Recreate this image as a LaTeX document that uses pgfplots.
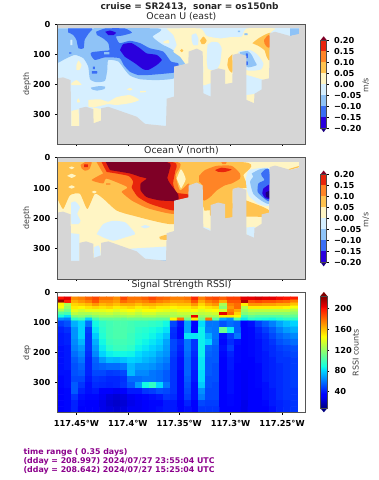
\documentclass[border=0pt]{standalone}
\usepackage{pgfplots}
\usepackage{pgfplotstable}
\pgfplotsset{compat=1.18}
\usepackage{fontspec}
\setmainfont{DejaVu Sans}
\definecolor{cGray}{HTML}{D6D6D6}
\definecolor{cN}{HTML}{1A0080}
\definecolor{cA}{HTML}{2A00DD}
\definecolor{cB}{HTML}{3A6EF5}
\definecolor{cC}{HTML}{8FC3F7}
\definecolor{cD}{HTML}{D6EFFF}
\definecolor{cE}{HTML}{FFF5C4}
\definecolor{cF}{HTML}{FFC34F}
\definecolor{cG}{HTML}{FF8426}
\definecolor{cH}{HTML}{E8250C}
\definecolor{cI}{HTML}{7F0026}
\definecolor{cFrame}{HTML}{555555}
\definecolor{cPurple}{HTML}{8B008B}
\newcommand{\tickfont}{\fontsize{6.2}{7}\selectfont\bfseries}
\newcommand{\labfont}{\fontsize{6.0}{7}\selectfont}
\newcommand{\titfont}{\fontsize{7.0}{8}\selectfont}
% x axis: thousandths of a degree, x = (lon + 118) * 1000, so 550 = 117.45 W
\pgfplotstableread{
x y
531 181
537 178
544.4 187
544.7 340
552.8 340
552.8 281
559.3 276
566.4 284
566.7 331
573.9 322
573.9 281
581 276
608.6 309
616.7 333
637.1 340
637.8 249
644.9 242
644.9 142
658.8 131
659.2 92
667 82
672.8 92
673.4 231
680.6 242
680.6 156
688 148
694.5 153
694.5 200
701.7 196
702 103
707.5 98
715.3 106
715.3 253
722.8 264
723.1 233
730.2 218
730.2 187
737.4 181
738 31
743.2 26
757.8 40
766.5 33
766.5 15
773 15
773 400
531 400
}\terrain
\pgfplotsset{
  rect/.style={fill=#1,draw=none,forget plot},
  poly/.style={fill=#1,draw=none,forget plot,smooth,tension=0.35},
  sec/.style={scale only axis,width=186.15pt,xmin=531.4,xmax=772.8,ymin=0,ymax=400,
    y dir=reverse,clip=true,axis on top,
    ytick={0,100,200,300},xtick={550,600,650,700,750},
    xtick pos=bottom,ytick pos=left,tick align=outside,
    major tick length=1.6pt,
    tick style={color=black,line width=0.35pt},
    axis line style={color=cFrame,line width=0.6pt},
    tick label style={font=\tickfont},
    every axis y label/.style={at={(axis description cs:-0.122,0.5)},rotate=90,anchor=center,font=\labfont,color=black!75},
    title style={font=\titfont,at={(axis description cs:0.5,1)},anchor=south,yshift=-7.4pt,color=black!85},
    /pgf/number format/assume math mode=true,
    axis background/.style={fill=cGray}},
  cbar/.style={scale only axis,width=4.5pt,xmin=0,xmax=1,clip=false,axis on top,
    xtick=\empty,ytick pos=right,tick align=outside,major tick length=1.6pt,
    tick style={color=black,line width=0.35pt},
    axis line style={color=black!70,line width=0.3pt},
    yticklabel style={font=\tickfont,anchor=west,xshift=0.4pt},
    /pgf/number format/assume math mode=true},
  uvbar/.style={cbar,height=66pt,ymin=-0.2,ymax=0.2,
    ytick={-0.2,-0.15,-0.1,-0.05,0,0.05,0.1,0.15,0.2},
    yticklabels={−0.20,−0.15,−0.10,−0.05,0.00,0.05,0.10,0.15,0.20}},
}
\newcommand{\uvbarplots}{%
  \addplot[rect=cA] coordinates {(0,-0.2)(1,-0.2)(1,-0.15)(0,-0.15)} -- cycle;
  \addplot[rect=cB] coordinates {(0,-0.15)(1,-0.15)(1,-0.1)(0,-0.1)} -- cycle;
  \addplot[rect=cC] coordinates {(0,-0.1)(1,-0.1)(1,-0.05)(0,-0.05)} -- cycle;
  \addplot[rect=cD] coordinates {(0,-0.05)(1,-0.05)(1,0)(0,0)} -- cycle;
  \addplot[rect=cE] coordinates {(0,0)(1,0)(1,0.05)(0,0.05)} -- cycle;
  \addplot[rect=cF] coordinates {(0,0.05)(1,0.05)(1,0.1)(0,0.1)} -- cycle;
  \addplot[rect=cG] coordinates {(0,0.1)(1,0.1)(1,0.15)(0,0.15)} -- cycle;
  \addplot[rect=cH] coordinates {(0,0.15)(1,0.15)(1,0.2)(0,0.2)} -- cycle;
  \addplot[rect=cI] coordinates {(0,0.2)(1,0.2)(0.5,0.217)} -- cycle;
  \addplot[rect=cN] coordinates {(0,-0.2)(1,-0.2)(0.5,-0.219)} -- cycle;
}
\newcommand{\terrainplots}{%
  \addplot[rect=cGray] table {\terrain} -- cycle;
  \addplot[rect=cGray] coordinates {(531,-1)(773,-1)(773,15)(531,15)} -- cycle;
}
\begin{document}
\begin{tikzpicture}[x=1pt,y=1pt]
\path[use as bounding box] (0,0) rectangle (284.25,360);
\node[anchor=center,font=\fontsize{6.75}{8}\selectfont\bfseries,color=black!85] at (142.2,354.7) {cruise = SR2413,\ \ sonar = os150nb};

% ---------- Ocean U
\begin{axis}[sec,at={(42.98pt,252pt)},anchor=south west,height=90pt,title={Ocean U (east)},ylabel={depth},xticklabels={}]
\addplot[rect=cD] coordinates {(531,15)(767,15)(767,400)(531,400)} -- cycle;
\addplot[poly=cC] coordinates {(531,15)(629.6,15)(624.1,42)(632.9,67)(642.6,84)(652.4,107)(657.2,125)(652.4,142)(644.9,181)(628,187)(611.8,184)(602.1,172)(597.2,153)(590.7,125)(581,120)(580,153)(577.8,189)(569.7,194)(563.2,184)(561.5,142)(556.7,114)(548.6,103)(540.5,114)(532.4,129)(531,129)} -- cycle;
\addplot[poly=cD] coordinates {(544,53)(546,53)(546,70)(544,70)} -- cycle;
\addplot[poly=cB] coordinates {(542,15)(565,15)(562,31)(558,53)(557,81)(552,81)(550,53)(547,37)(542,28)} -- cycle;
\addplot[poly=cB] coordinates {(569,26)(578,15)(597,15)(604,29)(594,39)(588.5,42)(592,64)(602,56)(612,64)(621.5,81)(634.5,92)(642,125)(649,131)(649,153)(645,162)(631,167)(620,170)(610,170)(602,159)(596,137)(592,114)(578,111)(568,120)(564,103)(565,94)(578,89)(582,87)(581,64)(576,48)(570,37)} -- cycle;
\addplot[poly=cC] coordinates {(577,94)(582,94)(582,101)(577,101)} -- cycle;
\addplot[poly=cA] coordinates {(578,26)(583,22)(588.5,29)(586,37)(581,37)} -- cycle;
\addplot[poly=cA] coordinates {(592.4,87)(595.6,67)(603.7,64)(611.8,81)(618.3,98)(628,103)(633,120)(628,137)(620,153)(615,151)(607,131)(597,109)} -- cycle;
\addplot[poly=cB] coordinates {(566,142)(568,142)(568,150)(566,150)} -- cycle;
\addplot[poly=cB] coordinates {(565,157)(570,157)(570,165)(565,165)} -- cycle;
\addplot[poly=cB] coordinates {(543,95)(545,95)(545,99)(543,99)} -- cycle;
\addplot[poly=cC] coordinates {(564,212)(572,207)(578,209)(577,217)(570,222)(565,218)} -- cycle;
\addplot[poly=cE] coordinates {(550,137)(552,122)(555,137)(553,153)(550,153)} -- cycle;
\addplot[poly=cE] coordinates {(545,198)(550,187)(555,203)(545,204)} -- cycle;
\addplot[poly=cE] coordinates {(550.5,255)(552,248)(553.5,260)(551,262)} -- cycle;
\addplot[rect=cE] coordinates {(545,290)(552,284)(553,340)(545,340)} -- cycle;
\addplot[rect=cE] coordinates {(566,278)(574.5,284)(574,325)(566,333)} -- cycle;
\addplot[poly=cE] coordinates {(561.5,253)(573,251)(581,259)(589,244)(602,237)(611,253)(602,264)(589,270)(581,267)(573,273)(566,278)(561.5,275)} -- cycle;
\addplot[poly=cE] coordinates {(599,218)(602,213)(604.7,218)(602,222)} -- cycle;
\addplot[poly=cE] coordinates {(612,224)(617.6,223)(617.6,227)(612,228)} -- cycle;
\addplot[poly=cE] coordinates {(634.5,59)(639.4,53)(640.3,64)(635,64)} -- cycle;
\addplot[poly=cE] coordinates {(637.8,15)(670.2,15)(676.7,40)(689.7,48)(699.4,44)(710.8,42)(715.6,15)(743.2,15)(738,37)(738,181)(730.2,184)(715.3,170)(702.7,175)(701.7,203)(693,203)(680,198)(673,203)(673,137)(659.5,137)(655.6,131)(650.8,109)(644.3,92)(647.5,70)(644.3,37)} -- cycle;
\addplot[poly=cD] coordinates {(662,37)(666,31)(668.6,48)(668,70)(663.7,70)(662,53)} -- cycle;
\addplot[poly=cD] coordinates {(677.4,70)(681.6,60)(688,62)(691.3,81)(690.7,103)(689.7,131)(686.4,151)(680.6,153)(677.7,148)(676.7,120)} -- cycle;
\addplot[poly=cD] coordinates {(707.5,92)(718.9,87)(726.3,103)(731.8,131)(729.6,151)(722,155.6)(715.3,153)(707.5,120)} -- cycle;
\addplot[rect=cE] coordinates {(715.3,237)(723.7,233)(723.7,270)(715.3,264)} -- cycle;
\addplot[poly=cC] coordinates {(709,94)(716.6,90)(720.5,103)(723.7,125)(725.4,137)(718.9,144)(715.3,142)(709,109)} -- cycle;
\addplot[poly=cB] coordinates {(714.7,98)(716.6,98)(716.6,114)(714.7,114)} -- cycle;
\addplot[poly=cB] coordinates {(715,125)(716.6,125)(716.6,137)(715,137)} -- cycle;
\addplot[poly=cC] coordinates {(706.9,22)(709.1,22)(709.1,27)(706.9,27)} -- cycle;
\addplot[poly=cC] coordinates {(713.4,31)(716.6,31)(716.6,37)(713.4,37)} -- cycle;
\addplot[poly=cF] coordinates {(721.1,64)(727,48)(735,33)(740,33)(738,120)(735,109)(732.8,87)(727,73)} -- cycle;
\addplot[poly=cG] coordinates {(732.5,53)(735.7,39)(738,39)(738,78)(735,75.6)(732.8,64)} -- cycle;
\addplot[poly=cF] coordinates {(670.2,55.6)(673.5,42)(676.7,55.6)(674.4,67)(671.8,67)} -- cycle;
\addplot[poly=cF] coordinates {(650.8,89)(652.4,83)(654,89)(652.4,94)} -- cycle;
\addplot[poly=cF] coordinates {(701.7,101)(701.7,161)(698.4,153)(696.8,137)(697.8,114)} -- cycle;
\addplot[rect=cC] coordinates {(757.8,15)(766.5,15)(766.5,36)(757.8,40)} -- cycle;
\terrainplots
\end{axis}

% ---------- Ocean V
\begin{axis}[sec,at={(42.98pt,150.75pt)},anchor=south west,height=91pt,title={Ocean V (north)},ylabel={depth},xticklabels={}]
\addplot[rect=cE] coordinates {(531,15)(767,15)(767,400)(531,400)} -- cycle;
\addplot[poly=cF] coordinates {(531,15)(712.4,15)(712.4,58)(716.6,97)(707.5,102)(702,108)(702,203)(694.5,208)(680,190)(680,174)(674.4,174)(673,158)(660,140)(645,219)(605,191)(589,174)(576,135)(568,119)(560.6,169)(553.4,119)(543.7,124)(537,169)(531,130)} -- cycle;
\addplot[poly=cF] coordinates {(715,141)(723.7,152)(731.8,163)(737.4,174)(737.4,194)(715,194)} -- cycle;
\addplot[poly=cF] coordinates {(756.2,38)(765.9,28)(765.9,32)(756.8,41)} -- cycle;
\addplot[poly=cE] coordinates {(542.7,33)(545.3,29)(548,33)(545.3,38)} -- cycle;
\addplot[poly=cE] coordinates {(541,60)(545.3,53)(549.5,60)(545.3,67)} -- cycle;
\addplot[poly=cE] coordinates {(542,97)(545.3,91)(548.6,97)(545.3,102)} -- cycle;
\addplot[poly=cE] coordinates {(564.8,113)(567.4,109)(569.7,113)(567.4,118)} -- cycle;
\addplot[poly=cG] coordinates {(569.7,15)(648.5,15)(646.5,58)(650.8,108)(659.5,85)(659.5,141)(645,185)(621.5,169)(613.4,158)(603.7,141)(594,113)(599.5,97)(579.4,69)(576,85)(564.8,74)(576,52)} -- cycle;
\addplot[poly=cE] coordinates {(647.5,69)(651.7,38)(656.3,71)(651.7,102)} -- cycle;
\addplot[poly=cG] coordinates {(554,24)(558.3,15)(564.8,15)(562.5,38)(558.3,43)(555,35)} -- cycle;
\addplot[poly=cH] coordinates {(557.5,22)(561,22)(561,31)(557.5,31)} -- cycle;
\addplot[poly=cG] coordinates {(579,85)(583,85)(583,89)(579,89)} -- cycle;
\addplot[poly=cH] coordinates {(574.5,15)(644,15)(645.9,47)(644,85)(647.5,115)(659.5,122)(659.5,143)(645,174)(621.5,152)(610,130)(605.3,108)(603.7,97)(605.3,80)(600.5,60)(579.4,47)} -- cycle;
\addplot[poly=cI] coordinates {(578.7,15)(638.4,15)(640.4,41)(638.4,67)(641,85)(649,122)(649,141)(645,143)(631.3,141)(618.3,130)(612.5,108)(612.5,85)(618.3,69)(611.8,63)(602,52)(582.6,41)} -- cycle;
\addplot[poly=cG] coordinates {(669.3,60)(675,41)(686.4,27)(701,27)(709,52)(709,69)(701,85)(694.5,91)(686.4,108)(680,130)(673.5,141)(672.5,91)(669.3,80)} -- cycle;
\addplot[poly=cH] coordinates {(684.8,41)(691.3,33)(701,39)(694.5,47)(688,47)} -- cycle;
\addplot[poly=cG] coordinates {(691,15)(696,15)(695,21)(692,21)} -- cycle;
\addplot[poly=cD] coordinates {(714.7,74)(717.9,41)(737.4,35)(739,100)(737.4,158)(727,152)(717.9,127)(715.6,102)} -- cycle;
\addplot[poly=cC] coordinates {(720.5,52)(728.6,38)(737.4,38)(739,100)(737.4,152)(729.6,141)(722,119)(718.9,80)(722,63)} -- cycle;
\addplot[poly=cB] coordinates {(729.6,52)(733.5,39)(737.4,39)(739,100)(737.4,143)(732.8,135)(726.3,113)(727,85)(732.8,74)(730.2,60)} -- cycle;
\addplot[poly=cA] coordinates {(739,85)(731.8,102)(730.9,119)(733.5,133)(739,138)} -- cycle;
\addplot[poly=cN] coordinates {(739,108)(734.1,115)(734.8,130)(739,133)} -- cycle;
\addplot[rect=cD] coordinates {(715.3,230)(723.7,228)(723.7,267)(715.3,258)} -- cycle;
\addplot[poly=cD] coordinates {(673,228)(680,235)(680,245)(673,240)} -- cycle;
\addplot[poly=cD] coordinates {(544.7,149)(548.6,144)(553.4,163)(550.8,185)(554,208)(551.8,219)(545,219)} -- cycle;
\addplot[rect=cD] coordinates {(544.7,249)(552.8,252)(553,345)(544.7,345)} -- cycle;
\addplot[poly=cD] coordinates {(567,296)(572,290)(573.5,325)(567,330)} -- cycle;
\addplot[poly=cD] coordinates {(569.7,252)(576,219)(586,208)(597.2,213)(603.7,235)(607,252)(597.2,263)(586,274)(576,263)} -- cycle;
\addplot[poly=cD] coordinates {(612.5,228)(616.7,222)(621.5,228)(616.7,233)} -- cycle;
\addplot[poly=cF] coordinates {(630.6,261)(637.8,254)(637.8,271)(631.3,269)} -- cycle;
\addplot[rect=cD] coordinates {(602,300)(637.8,293)(637.8,345)(602,325)} -- cycle;
\addplot[rect=cC] coordinates {(625,340)(638,338)(638,345)(625,345)} -- cycle;
\terrainplots
\end{axis}

% ---------- RSSI
\begin{axis}[sec,at={(42.98pt,50.5pt)},anchor=south west,height=90.3pt,title={Signal Strength RSSI)},ylabel={dep},
  axis background/.style={fill=white},
  xticklabels={117.45°W,117.4°W,117.35°W,117.3°W,117.25°W},
  xticklabel style={yshift=-0.6pt},
  colormap={mplj}{rgb(0pt)=(0,0,0.5) rgb(110pt)=(0,0,1) rgb(125pt)=(0,0,1) rgb(340pt)=(0,0.86,1) rgb(375pt)=(0.08,1,0.88) rgb(640pt)=(1,1,0) rgb(660pt)=(1,0.92,0) rgb(890pt)=(1,0.07,0) rgb(910pt)=(0.91,0,0) rgb(1000pt)=(0.5,0,0)},
  point meta min=8,point meta max=224]
% depths 20,30,...,90 m (one row per depth), columns west to east
\addplot[matrix plot*,mesh/cols=34,mesh/rows=8,point meta=explicit,forget plot]
 table[row sep=\\,header=false,meta index=0,
   x expr={531.1+6.88*(\coordindex-34*floor((\coordindex+0.5)/34)+0.5)},
   y expr={20+10*floor((\coordindex+0.5)/34)}] {
200\\205\\172\\175\\182\\188\\178\\178\\172\\188\\178\\178\\182\\188\\182\\180\\175\\175\\178\\195\\175\\185\\188\\182\\190\\190\\205\\205\\208\\205\\205\\202\\200\\198\\
220\\198\\165\\170\\175\\185\\172\\172\\168\\180\\175\\172\\175\\180\\175\\172\\168\\168\\170\\185\\165\\175\\180\\165\\185\\185\\215\\185\\188\\185\\185\\182\\180\\175\\
148\\125\\155\\158\\162\\170\\162\\165\\160\\165\\165\\160\\165\\165\\162\\160\\158\\160\\160\\170\\155\\165\\170\\125\\175\\180\\150\\170\\170\\168\\168\\165\\165\\160\\
145\\120\\150\\148\\152\\155\\152\\155\\150\\152\\155\\150\\152\\155\\150\\150\\148\\150\\150\\155\\148\\152\\155\\118\\170\\180\\128\\150\\150\\150\\150\\150\\148\\145\\
125\\112\\140\\135\\140\\140\\140\\142\\138\\142\\145\\140\\145\\145\\142\\140\\138\\142\\142\\145\\138\\142\\145\\135\\175\\165\\122\\130\\130\\130\\130\\130\\130\\128\\
105\\100\\130\\125\\125\\128\\130\\132\\128\\132\\135\\130\\135\\135\\130\\130\\128\\132\\132\\132\\130\\132\\135\\205\\180\\155\\115\\120\\118\\118\\118\\118\\118\\118\\
90\\82\\115\\118\\112\\118\\122\\122\\120\\122\\125\\122\\125\\125\\122\\122\\125\\125\\125\\205\\122\\125\\125\\150\\150\\148\\100\\108\\105\\105\\105\\105\\108\\108\\
65\\62\\95\\100\\80\\100\\108\\108\\108\\108\\110\\110\\110\\110\\108\\108\\148\\178\\112\\150\\112\\178\\105\\72\\65\\105\\85\\95\\92\\90\\88\\92\\95\\95\\
};
% 15 depth cells from 95 to 400 m, one line per column, west to east
\addplot[matrix plot*,mesh/cols=34,mesh/rows=15,mesh/ordering=y varies,point meta=explicit,forget plot]
 table[row sep=\\,header=false,meta index=0,
   x expr={531.1+6.88*(floor((\coordindex+0.5)/15)+0.5)},
   y expr={95+20.333*(\coordindex-15*floor((\coordindex+0.5)/15)+0.5)}] {
48\\42\\40\\40\\38\\38\\38\\38\\38\\36\\36\\35\\35\\35\\35\\
52\\45\\42\\42\\40\\40\\40\\40\\38\\38\\38\\36\\36\\36\\36\\
72\\66\\66\\64\\62\\58\\54\\52\\52\\50\\54\\54\\46\\42\\42\\
80\\80\\80\\74\\68\\64\\60\\56\\54\\50\\46\\42\\38\\36\\34\\
58\\48\\46\\46\\46\\44\\42\\42\\42\\40\\38\\38\\36\\35\\35\\
88\\84\\78\\72\\68\\64\\56\\54\\50\\46\\44\\40\\36\\34\\33\\
96\\94\\92\\88\\85\\80\\68\\56\\50\\45\\43\\35\\30\\28\\28\\
100\\100\\100\\98\\94\\86\\75\\58\\47\\43\\42\\32\\26\\24\\26\\
102\\102\\102\\100\\98\\88\\74\\58\\48\\43\\43\\30\\24\\22\\24\\
102\\102\\102\\100\\98\\88\\76\\60\\50\\45\\46\\34\\26\\24\\26\\
100\\100\\98\\98\\95\\87\\80\\74\\74\\58\\54\\40\\30\\28\\30\\
98\\95\\93\\91\\87\\82\\78\\68\\64\\58\\68\\40\\34\\30\\30\\
98\\93\\91\\87\\84\\78\\74\\68\\64\\60\\88\\46\\36\\34\\34\\
96\\90\\87\\84\\80\\76\\71\\66\\60\\60\\96\\48\\38\\36\\36\\
94\\87\\83\\80\\76\\70\\66\\62\\58\\58\\81\\52\\40\\36\\38\\
88\\83\\76\\70\\68\\66\\62\\58\\54\\54\\60\\50\\46\\40\\40\\
50\\45\\44\\50\\50\\48\\46\\46\\46\\46\\46\\46\\44\\40\\40\\
38\\36\\36\\44\\42\\40\\38\\38\\36\\36\\36\\36\\36\\34\\34\\
70\\70\\84\\60\\60\\58\\56\\56\\56\\54\\52\\50\\48\\42\\38\\
35\\34\\84\\46\\46\\44\\42\\42\\40\\40\\38\\38\\38\\34\\34\\
82\\86\\86\\86\\86\\86\\84\\84\\82\\82\\78\\66\\62\\50\\46\\
60\\62\\72\\80\\58\\56\\54\\54\\54\\52\\52\\50\\50\\48\\46\\
60\\60\\60\\58\\55\\54\\54\\52\\52\\52\\50\\50\\50\\48\\46\\
52\\110\\38\\36\\38\\36\\34\\34\\34\\34\\34\\34\\34\\34\\32\\
58\\85\\48\\44\\48\\42\\40\\40\\38\\38\\38\\38\\36\\36\\34\\
55\\55\\60\\38\\36\\36\\36\\34\\34\\34\\34\\34\\34\\34\\34\\
34\\32\\32\\32\\32\\32\\32\\32\\30\\30\\30\\30\\30\\28\\28\\
38\\36\\36\\36\\36\\36\\34\\34\\34\\34\\34\\34\\34\\34\\32\\
48\\42\\40\\38\\38\\38\\38\\36\\36\\36\\36\\35\\35\\35\\33\\
55\\48\\44\\42\\42\\40\\40\\40\\40\\40\\38\\38\\38\\36\\35\\
62\\54\\50\\46\\44\\44\\42\\42\\42\\42\\42\\40\\40\\40\\38\\
70\\62\\56\\52\\48\\46\\46\\44\\44\\44\\44\\44\\44\\42\\42\\
76\\68\\60\\55\\50\\48\\46\\46\\46\\46\\46\\46\\46\\44\\44\\
80\\72\\64\\58\\52\\50\\48\\48\\48\\48\\48\\46\\46\\46\\46\\
};
\end{axis}

% ---------- colour bars
\begin{axis}[uvbar,at={(240.5pt,264pt)},anchor=south west]
\uvbarplots
\end{axis}
\begin{axis}[uvbar,at={(240.5pt,163.3pt)},anchor=south west]
\uvbarplots
\end{axis}
\begin{axis}[cbar,at={(240.3pt,53.8pt)},anchor=south west,width=5.2pt,height=84.2pt,ymin=8,ymax=224,
  ytick={40,80,120,160,200},
  colormap={mplj}{rgb(0pt)=(0,0,0.5) rgb(110pt)=(0,0,1) rgb(125pt)=(0,0,1) rgb(340pt)=(0,0.86,1) rgb(375pt)=(0.08,1,0.88) rgb(640pt)=(1,1,0) rgb(660pt)=(1,0.92,0) rgb(890pt)=(1,0.07,0) rgb(910pt)=(0.91,0,0) rgb(1000pt)=(0.5,0,0)},
  point meta min=8,point meta max=224]
\addplot[surf,shader=interp,mesh/cols=2,point meta=y,forget plot] coordinates {(0,8)(1,8)

(0,224)(1,224)};
\addplot[fill={rgb,1:red,0.5;green,0;blue,0},draw=none,forget plot] coordinates {(0,224)(1,224)(0.5,231.7)} -- cycle;
\addplot[fill={rgb,1:red,0;green,0;blue,0.5},draw=none,forget plot] coordinates {(0,8)(1,8)(0.5,0.3)} -- cycle;
\end{axis}

\node[rotate=90,font=\labfont,color=black!75] at (274.3,296) {m/s};
\node[rotate=90,font=\labfont,color=black!75] at (274.3,195) {m/s};
\node[rotate=90,font=\labfont,color=black!75] at (266.8,95.5) {RSSI counts};

\node[anchor=west,font=\fontsize{5.9}{7}\selectfont\bfseries,color=cPurple] at (14.2,20.5) {time range ( 0.35 days)};
\node[anchor=west,font=\fontsize{5.9}{7}\selectfont\bfseries,color=cPurple] at (14.2,13.7) {(dday = 208.997) 2024/07/27 23:55:04 UTC};
\node[anchor=west,font=\fontsize{5.9}{7}\selectfont\bfseries,color=cPurple] at (14.2,7.3) {(dday = 208.642) 2024/07/27 15:25:04 UTC};
\end{tikzpicture}
\end{document}
